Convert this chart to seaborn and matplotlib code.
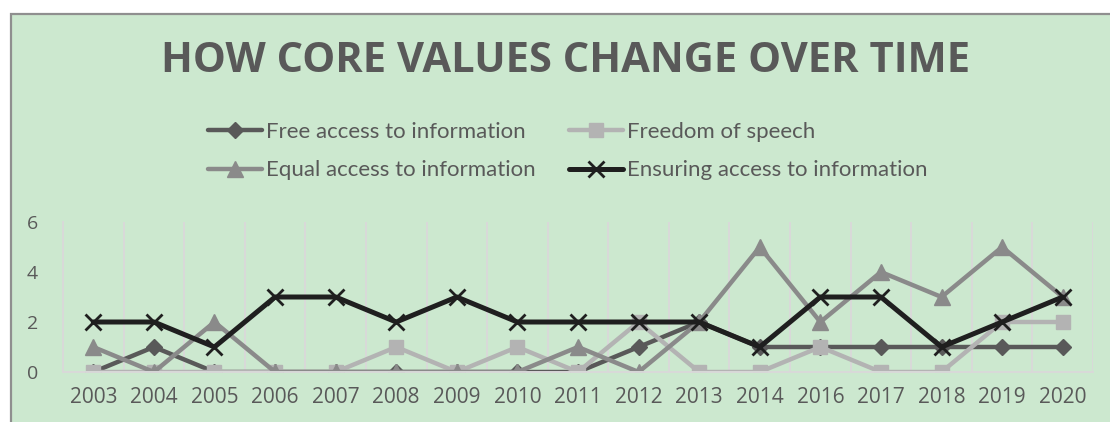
import matplotlib
matplotlib.use("Agg")
import matplotlib.pyplot as plt
import seaborn as sns
import pandas as pd
from matplotlib.patches import Rectangle
from matplotlib.ticker import FixedLocator

years = ["2003", "2004", "2005", "2006", "2007", "2008", "2009", "2010", "2011",
         "2012", "2013", "2014", "2016", "2017", "2018", "2019", "2020"]
free_access = [0, 1, 0, 0, 0, 0, 0, 0, 0, 1, 2, 1, 1, 1, 1, 1, 1]
freedom_speech = [0, 0, 0, 0, 0, 1, 0, 1, 0, 2, 0, 0, 1, 0, 0, 2, 2]
equal_access = [1, 0, 2, 0, 0, 0, 0, 0, 1, 0, 2, 5, 2, 4, 3, 5, 3]
ensuring_access = [2, 2, 1, 3, 3, 2, 3, 2, 2, 2, 2, 1, 3, 3, 1, 2, 3]
series_names = ["Free access to information", "Freedom of speech",
                "Equal access to information", "Ensuring access to information"]
title = "HOW CORE VALUES CHANGE OVER TIME"

sns.set_theme(style="white")
plt.rcParams["font.family"] = ["Open Sans", "DejaVu Sans"]

W, H = 1110, 422
fig = plt.figure(figsize=(W / 100, H / 100), dpi=100)
fig.patch.set_facecolor("white")
bg = "#cce8cf"
fig.patches.append(Rectangle((11 / W, -0.1), 1.2, (H - 14) / H + 0.1,
                             transform=fig.transFigure, facecolor=bg,
                             edgecolor="#8f8f8f", lw=1.6, zorder=-10))

ax = fig.add_axes([63 / W, 50 / H, 1030 / W, 150 / H])
ax.set_facecolor("none")

styles = [
    (free_access, "#595959", "D", 8.5, 3.2, 1.0),
    (freedom_speech, "#b3b3b3", "s", 10, 3.2, 1.0),
    (equal_access, "#8a8a8a", "^", 11, 3.2, 1.0),
    (ensuring_access, "#1f1f1f", "x", 11, 3.6, 2.0),
]
handles = []
for (vals, col, mk, ms, lw, mew), name in zip(styles, series_names):
    df = pd.DataFrame({"year": years, "value": vals})
    sns.pointplot(data=df, x="year", y="value", color=col, markers=mk,
                  linestyles="-", errorbar=None, ax=ax, legend=False,
                  markersize=ms, linewidth=lw, markeredgewidth=mew)
    ln = ax.lines[-1]
    ln.set_markeredgecolor(col)
    ln.set_markerfacecolor(col)
    handles.append(ln)
if ax.get_legend() is not None:
    ax.get_legend().remove()

ax.set_xlim(-0.5, len(years) - 0.5)
ax.set_ylim(0, 6)
ax.set_yticks([0, 2, 4, 6])
ax.set_xlabel("")
ax.set_ylabel("")
ax.xaxis.set_minor_locator(FixedLocator([i + 0.5 for i in range(len(years))]))
ax.grid(False)
ax.grid(True, which="minor", axis="x", color="#d9d9d9", lw=1.4)
for s in ["top", "right"]:
    ax.spines[s].set_visible(False)
for s in ["left", "bottom"]:
    ax.spines[s].set_visible(True)
    ax.spines[s].set_color("#d9d9d9")
    ax.spines[s].set_linewidth(1.4)
ax.tick_params(axis="both", which="both", length=0, colors="#595959",
               labelsize=14)
ax.tick_params(axis="x", pad=11, labelsize=15)
ax.tick_params(axis="y", pad=18)

fig.text(566 / W, 1 - 62 / H, title, ha="center", va="center",
         fontsize=30, fontweight="bold", color="#595959",
         family=["Open Sans", "DejaVu Sans"])

order = [handles[0], handles[2], handles[1], handles[3]]
leg = fig.legend(handles=order, labels=[series_names[0], series_names[2],
                                        series_names[1], series_names[3]],
                 ncol=2, loc="center", bbox_to_anchor=(568 / W, 1 - 151 / H),
                 frameon=False, handlelength=2.4,
                 handletextpad=0.2, columnspacing=1.5, labelspacing=0.85,
                 prop={"family": "Lato", "size": 16})
for t in leg.get_texts():
    t.set_color("#595959")

fig.savefig("out.png", dpi=100, facecolor=fig.get_facecolor())
